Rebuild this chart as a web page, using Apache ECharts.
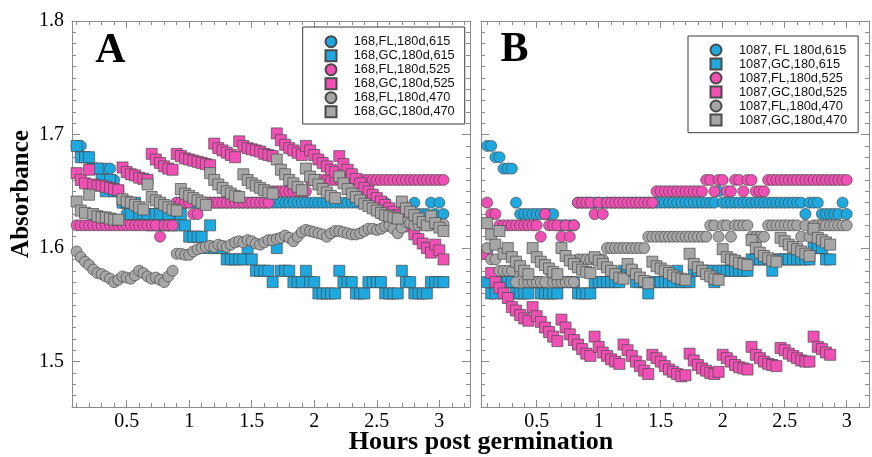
<!DOCTYPE html>
<html><head><meta charset="utf-8">
<script src="https://cdn.jsdelivr.net/npm/echarts@6/dist/echarts.min.js"></script>
<style>html,body{margin:0;padding:0;background:#fff}#c{width:872px;height:457px}</style>
</head><body><div id="c"></div>
<script>
// ---- data ----
const hours = [0.1,0.133,0.167,0.2,0.233,0.267,0.3,0.333,0.367,0.4,
0.433,0.467,0.5,0.533,0.567,0.6,0.633,0.667,0.7,0.733,
0.767,0.8,0.833,0.867,0.9,0.933,0.967,1.0,1.033,1.067,
1.1,1.133,1.167,1.2,1.233,1.267,1.3,1.333,1.367,1.4,
1.433,1.467,1.5,1.533,1.567,1.6,1.633,1.667,1.7,1.733,
1.767,1.8,1.833,1.867,1.9,1.933,1.967,2.0,2.033,2.067,
2.1,2.133,2.167,2.2,2.233,2.267,2.3,2.333,2.367,2.4,
2.433,2.467,2.5,2.533,2.567,2.6,2.633,2.667,2.7,2.733,
2.767,2.8,2.833,2.867,2.9,2.933,2.967,3.0,3.033];

const xMajorTicks = [0.5,1,1.5,2,2.5,3];
const xMinorTicks = [0.1,0.2,0.3,0.4,0.6,0.7,0.8,0.9,1.1,1.2,1.3,1.4,1.6,1.7,1.8,1.9,2.1,2.2,2.3,2.4,2.6,2.7,2.8,2.9,3.1,3.2];
const yMajorTicks = [1.5,1.6,1.7,1.8];
const yMinorTicks = [1.47,1.48,1.49,1.51,1.52,1.53,1.54,1.55,1.56,1.57,1.58,1.59,1.61,1.62,1.63,1.64,1.65,1.66,1.67,1.68,1.69,1.71,1.72,1.73,1.74,1.75,1.76,1.77,1.78,1.79];

// Panel A (168)
const A_FL_615 = [1.69,1.69,1.68,1.67,1.67,1.67,1.67,1.67,1.67,1.66,
1.65,1.64,1.63,1.63,1.63,1.63,1.63,1.63,1.63,1.62,
1.62,1.62,1.62,1.63,1.64,1.64,1.64,1.64,1.64,1.64,
1.64,1.64,1.64,1.64,1.64,1.64,1.64,1.64,1.64,1.64,
1.64,1.64,1.64,1.64,1.64,1.64,1.64,1.64,1.64,1.64,
1.64,1.64,1.64,1.64,1.64,1.64,1.64,1.64,1.64,1.64,
1.64,1.64,1.64,1.64,1.64,1.64,1.64,1.64,1.64,1.64,
1.64,1.64,1.64,1.63,1.64,1.63,1.63,1.63,1.64,1.63,
1.63,1.64,1.63,1.63,1.63,1.64,1.63,1.64,1.63];
const A_GC_615 = [1.69,1.68,1.68,1.68,1.67,1.67,1.66,1.65,1.66,1.65,
1.65,1.64,1.64,1.63,1.64,1.63,1.63,1.63,1.62,1.63,
1.63,1.62,1.63,1.62,1.62,1.63,1.62,1.61,1.61,1.61,
1.61,1.60,1.62,1.60,1.60,1.60,1.59,1.59,1.59,1.59,
1.59,1.60,1.59,1.58,1.58,1.58,1.58,1.57,1.60,1.58,
1.58,1.58,1.57,1.57,1.57,1.58,1.57,1.57,1.56,1.56,
1.56,1.56,1.56,1.58,1.57,1.57,1.57,1.56,1.56,1.56,
1.57,1.57,1.57,1.57,1.56,1.56,1.56,1.56,1.58,1.57,
1.57,1.56,1.56,1.56,1.56,1.57,1.57,1.57,1.57];
const A_FL_525 = [1.62,1.62,1.62,1.62,1.62,1.62,1.62,1.62,1.62,1.62,
1.62,1.62,1.62,1.62,1.62,1.62,1.62,1.62,1.62,1.62,
1.61,1.62,1.62,1.62,1.64,1.64,1.64,1.64,1.63,1.63,
1.64,1.64,1.64,1.64,1.64,1.64,1.64,1.64,1.64,1.64,
1.64,1.64,1.64,1.64,1.64,1.64,1.64,1.65,1.65,1.65,
1.65,1.65,1.65,1.65,1.65,1.65,1.66,1.66,1.66,1.66,
1.66,1.66,1.66,1.66,1.66,1.66,1.66,1.66,1.66,1.66,
1.66,1.66,1.66,1.66,1.66,1.66,1.66,1.66,1.66,1.66,
1.66,1.66,1.66,1.66,1.66,1.66,1.66,1.66,1.66];
const A_GC_525 = [1.666,1.660,1.657,1.669,1.656,1.655,1.655,1.654,1.653,1.652,
1.651,1.671,1.667,1.665,1.664,1.662,1.661,1.660,1.683,1.678,
1.675,1.672,1.670,1.669,1.683,1.681,1.679,1.678,1.677,1.676,
1.675,1.674,1.673,1.692,1.688,1.686,1.684,1.682,1.680,1.694,
1.690,1.688,1.687,1.686,1.685,1.683,1.682,1.681,1.701,1.695,
1.691,1.688,1.686,1.684,1.682,1.690,1.686,1.682,1.678,1.675,
1.672,1.669,1.667,1.681,1.674,1.669,1.665,1.661,1.657,1.653,
1.650,1.647,1.644,1.641,1.638,1.635,1.632,1.629,1.626,1.622,
1.619,1.612,1.608,1.604,1.600,1.596,1.603,1.598,1.590];
const A_FL_470 = [1.597,1.592,1.588,1.585,1.581,1.578,1.577,1.575,1.573,1.570,
1.572,1.575,1.574,1.573,1.576,1.580,1.578,1.575,1.573,1.574,
1.572,1.570,1.575,1.580,1.595,1.595,1.594,1.594,1.597,1.599,
1.600,1.601,1.602,1.601,1.603,1.602,1.601,1.603,1.605,1.606,
1.605,1.607,1.606,1.604,1.603,1.605,1.607,1.607,1.608,1.609,
1.611,1.609,1.606,1.610,1.614,1.616,1.615,1.614,1.613,1.612,
1.610,1.613,1.615,1.615,1.614,1.613,1.612,1.612,1.613,1.615,
1.617,1.617,1.616,1.617,1.619,1.620,1.617,1.613,1.618,1.623,
1.622,1.620,1.620,1.621,1.620,1.621,1.622,1.621,1.621];
const A_GC_470 = [1.641,1.633,1.631,1.647,1.630,1.628,1.627,1.627,1.626,1.625,
1.625,1.643,1.641,1.640,1.638,1.636,1.634,1.656,1.645,1.642,
1.640,1.638,1.636,1.634,1.633,1.652,1.648,1.646,1.644,1.642,
1.640,1.638,1.666,1.660,1.656,1.653,1.650,1.648,1.646,1.645,
1.665,1.660,1.657,1.655,1.653,1.651,1.649,1.648,1.678,1.669,
1.665,1.660,1.657,1.654,1.651,1.670,1.663,1.660,1.656,1.652,
1.649,1.646,1.644,1.663,1.657,1.652,1.648,1.645,1.642,1.639,
1.637,1.635,1.633,1.631,1.629,1.628,1.627,1.626,1.641,1.635,
1.632,1.629,1.626,1.623,1.620,1.628,1.622,1.618,1.615];

// Panel B (1087)
const B_FL_615 = [1.69,1.69,1.68,1.68,1.67,1.67,1.67,1.64,1.63,1.63,
1.63,1.63,1.63,1.63,1.63,1.63,1.63,1.62,1.62,1.62,
1.62,1.62,1.64,1.64,1.64,1.64,1.64,1.64,1.64,1.64,
1.64,1.64,1.64,1.64,1.64,1.64,1.64,1.64,1.64,1.64,
1.64,1.64,1.64,1.64,1.64,1.64,1.64,1.64,1.64,1.64,
1.64,1.64,1.64,1.64,1.64,1.64,1.65,1.64,1.64,1.64,
1.64,1.64,1.64,1.64,1.64,1.64,1.64,1.64,1.64,1.64,
1.64,1.64,1.64,1.64,1.64,1.64,1.64,1.63,1.64,1.64,
1.64,1.63,1.63,1.63,1.63,1.63,1.64,1.63];
const B_GC_615 = [1.57,1.56,1.56,1.57,1.57,1.57,1.57,1.56,1.56,1.56,
1.56,1.57,1.57,1.56,1.56,1.56,1.56,1.56,1.57,1.57,
1.57,1.57,1.56,1.56,1.56,1.56,1.57,1.57,1.57,1.57,
1.57,1.57,1.57,1.58,1.58,1.58,1.57,1.57,1.57,1.56,
1.57,1.57,1.57,1.57,1.57,1.57,1.58,1.57,1.57,1.57,
1.58,1.58,1.58,1.58,1.58,1.57,1.58,1.58,1.58,1.58,
1.58,1.58,1.58,1.58,1.59,1.59,1.59,1.59,1.59,1.58,
1.59,1.59,1.59,1.59,1.59,1.59,1.59,1.59,1.59,1.60,
1.60,1.60,1.59,1.59];
const B_FL_525 = [1.64,1.63,1.63,1.62,1.62,1.62,1.62,1.62,1.62,1.62,
1.62,1.62,1.62,1.61,1.63,1.62,1.62,1.62,1.61,1.62,
1.61,1.62,1.64,1.64,1.64,1.64,1.63,1.64,1.63,1.64,
1.64,1.64,1.64,1.64,1.64,1.64,1.64,1.64,1.64,1.64,
1.64,1.65,1.65,1.65,1.65,1.65,1.65,1.65,1.65,1.65,
1.65,1.65,1.65,1.66,1.66,1.65,1.66,1.66,1.65,1.65,
1.66,1.66,1.65,1.66,1.66,1.65,1.65,1.65,1.66,1.66,
1.66,1.66,1.66,1.66,1.66,1.66,1.66,1.66,1.66,1.66,
1.66,1.66,1.66,1.66,1.66,1.66,1.66,1.66];
const B_GC_525 = [1.595,1.578,1.570,1.565,1.560,1.556,1.548,1.545,1.541,1.538,
1.536,1.548,1.540,1.535,1.530,1.526,1.522,1.518,1.537,1.530,
1.524,1.519,1.515,1.511,1.507,1.505,1.522,1.513,1.508,1.505,
1.502,1.500,1.498,1.515,1.510,1.505,1.500,1.496,1.492,1.489,
1.506,1.503,1.500,1.496,1.493,1.491,1.489,1.487,1.488,1.507,
1.501,1.497,1.494,1.492,1.490,1.489,1.491,1.506,1.503,1.500,
1.497,1.495,1.494,1.493,1.513,1.506,1.503,1.500,1.498,1.497,
1.496,1.512,1.510,1.507,1.505,1.503,1.501,1.500,1.500,1.522,
1.513,1.511,1.508,1.506];
const B_FL_470 = [1.60,1.59,1.59,1.58,1.58,1.58,1.58,1.57,1.58,1.57,
1.57,1.57,1.57,1.57,1.57,1.58,1.57,1.57,1.57,1.57,
1.57,1.57,1.59,1.59,1.59,1.59,1.59,1.59,1.59,1.60,
1.60,1.60,1.60,1.60,1.60,1.60,1.60,1.60,1.60,1.61,
1.61,1.61,1.61,1.61,1.61,1.61,1.61,1.61,1.61,1.61,
1.61,1.61,1.61,1.61,1.62,1.62,1.61,1.62,1.62,1.61,
1.62,1.62,1.62,1.62,1.61,1.61,1.61,1.61,1.62,1.62,
1.62,1.62,1.62,1.62,1.62,1.62,1.61,1.62,1.61,1.62,
1.62,1.62,1.62,1.62,1.62,1.62,1.62,1.62];
const B_GC_470 = [1.622,1.612,1.603,1.615,1.595,1.600,1.592,1.588,1.584,1.580,
1.577,1.600,1.592,1.588,1.585,1.582,1.579,1.577,1.600,1.593,
1.589,1.586,1.583,1.581,1.579,1.578,1.592,1.589,1.586,1.583,
1.580,1.577,1.574,1.573,1.586,1.581,1.577,1.574,1.571,1.569,
1.588,1.584,1.582,1.580,1.578,1.576,1.574,1.573,1.572,1.595,
1.586,1.583,1.580,1.577,1.575,1.573,1.572,1.599,1.592,1.590,
1.589,1.587,1.586,1.585,1.607,1.600,1.596,1.593,1.591,1.589,
1.588,1.609,1.606,1.603,1.601,1.599,1.597,1.595,1.593,1.617,
1.609,1.607,1.605,1.603];

const namesA = ['168,FL,180d,615','168,GC,180d,615','168,FL,180d,525','168,GC,180d,525','168,FL,180d,470','168,GC,180d,470'];
const namesB = ['1087, FL 180d,615','1087,GC,180,615','1087,FL,180d,525','1087,GC,180d,525','1087,FL,180d,470','1087,GC,180d,470'];
const valuesA = [A_FL_615, A_GC_615, A_FL_525, A_GC_525, A_FL_470, A_GC_470];
const valuesB = [B_FL_615, B_GC_615, B_FL_525, B_GC_525, B_FL_470, B_GC_470];

// ---- styling ----
const colors = ['#1ea8e0','#1ea8e0','#f04fb4','#f04fb4','#a6a6a6','#a6a6a6'];
const symbols = ['circle','rect','circle','rect','circle','rect'];
const frameColor = '#8c8c8c';
const serif = '"Liberation Serif", "Times New Roman", serif';
const sans = '"Liberation Sans", Arial, sans-serif';

function xAxesFor(g, min, max) {
  const base = {gridIndex: g, type: 'value', min: min, max: max, splitLine: {show: false}};
  return [
    Object.assign({}, base, {position: 'bottom',
      axisLine: {show: true, onZero: false, lineStyle: {color: frameColor, width: 1}},
      axisTick: {show: true, inside: true, length: 7, customValues: xMajorTicks, lineStyle: {color: frameColor}},
      axisLabel: {show: true, customValues: xMajorTicks, margin: 5, color: '#000', fontFamily: serif, fontSize: 20}}),
    Object.assign({}, base, {position: 'bottom',
      axisLine: {show: false, onZero: false},
      axisTick: {show: true, inside: true, length: 4, customValues: xMinorTicks, lineStyle: {color: frameColor}},
      axisLabel: {show: false}}),
    Object.assign({}, base, {position: 'top',
      axisLine: {show: true, onZero: false, lineStyle: {color: frameColor, width: 1}},
      axisTick: {show: true, inside: true, length: 7, customValues: xMajorTicks, lineStyle: {color: frameColor}},
      axisLabel: {show: false}}),
    Object.assign({}, base, {position: 'top',
      axisLine: {show: false, onZero: false},
      axisTick: {show: true, inside: true, length: 4, customValues: xMinorTicks, lineStyle: {color: frameColor}},
      axisLabel: {show: false}})
  ];
}
function yAxesFor(g, withLabels) {
  const base = {gridIndex: g, type: 'value', min: 1.46, max: 1.8, splitLine: {show: false}};
  return [
    Object.assign({}, base, {position: 'left',
      axisLine: {show: true, onZero: false, lineStyle: {color: frameColor, width: 1}},
      axisTick: {show: true, inside: true, length: 8, customValues: yMajorTicks, lineStyle: {color: frameColor}},
      axisLabel: {show: withLabels, customValues: yMajorTicks, margin: 8, color: '#000', fontFamily: serif, fontSize: 20,
        formatter: v => v.toFixed(1)}}),
    Object.assign({}, base, {position: 'left',
      axisLine: {show: false, onZero: false},
      axisTick: {show: true, inside: true, length: 4, customValues: yMinorTicks, lineStyle: {color: frameColor}},
      axisLabel: {show: false}}),
    Object.assign({}, base, {position: 'right',
      axisLine: {show: true, onZero: false, lineStyle: {color: frameColor, width: 1}},
      axisTick: {show: true, inside: true, length: 8, customValues: yMajorTicks, lineStyle: {color: frameColor}},
      axisLabel: {show: false}}),
    Object.assign({}, base, {position: 'right',
      axisLine: {show: false, onZero: false},
      axisTick: {show: true, inside: true, length: 4, customValues: yMinorTicks, lineStyle: {color: frameColor}},
      axisLabel: {show: false}})
  ];
}

function makeSeries(names, values, axisIdx) {
  return names.map((n, k) => ({
    name: n, type: 'scatter', xAxisIndex: axisIdx, yAxisIndex: axisIdx,
    symbol: symbols[k], symbolSize: 11,
    itemStyle: {color: colors[k], borderColor: '#4a4a4a', borderWidth: 0.7, opacity: 1},
    emphasis: {disabled: true},
    data: values[k].map((v, i) => [hours[i], v])
  }));
}

function legendFor(names, left, top, padding, textPad) {
  return {
    orient: 'vertical', left: left, top: top, padding: padding,
    itemWidth: 11, itemHeight: 11, itemGap: 0,
    borderColor: '#3a3a3a', borderWidth: 1, backgroundColor: '#fff',
    selectedMode: false,
    textStyle: {fontFamily: sans, fontSize: 12.8, color: '#111', lineHeight: 14, padding: [0, 0, 0, textPad]},
    data: names.map((n, k) => ({name: n, icon: symbols[k]}))
  };
}

const chart = echarts.init(document.getElementById('c'), null, {renderer: 'canvas'});
chart.setOption({
  animation: false,
  backgroundColor: '#fff',
  grid: [
    {left: 72, top: 21, width: 398, height: 386, containLabel: false},
    {left: 481, top: 21, width: 388, height: 386, containLabel: false}
  ],
  xAxis: xAxesFor(0, 0.063, 3.245).concat(xAxesFor(1, 0.051, 3.18)),
  yAxis: yAxesFor(0, true).concat(yAxesFor(1, false)),
  legend: [
    legendFor(namesA, 302.7, 27, [7.7, 10, 5.3, 21.8], 12.2),
    legendFor(namesB, 688, 36, [7, 11, 5.7, 21.5], 12.5)
  ],
  series: makeSeries(namesA, valuesA, 0).concat(makeSeries(namesB, valuesB, 4)),
  graphic: [
    {type: 'text', x: 22, y: 194, rotation: Math.PI / 2,
      style: {text: 'Absorbance', font: 'bold 25px ' + serif, textAlign: 'center', textVerticalAlign: 'middle', fill: '#000'}},
    {type: 'text', x: 481, y: 442,
      style: {text: 'Hours post germination', font: 'bold 26px ' + serif, textAlign: 'center', textVerticalAlign: 'middle', fill: '#000'}},
    {type: 'text', x: 110.5, y: 51,
      style: {text: 'A', font: 'bold 42px ' + serif, textAlign: 'center', textVerticalAlign: 'middle', fill: '#000'}},
    {type: 'text', x: 514.5, y: 50,
      style: {text: 'B', font: 'bold 42px ' + serif, textAlign: 'center', textVerticalAlign: 'middle', fill: '#000'}}
  ]
});
</script></body></html>
